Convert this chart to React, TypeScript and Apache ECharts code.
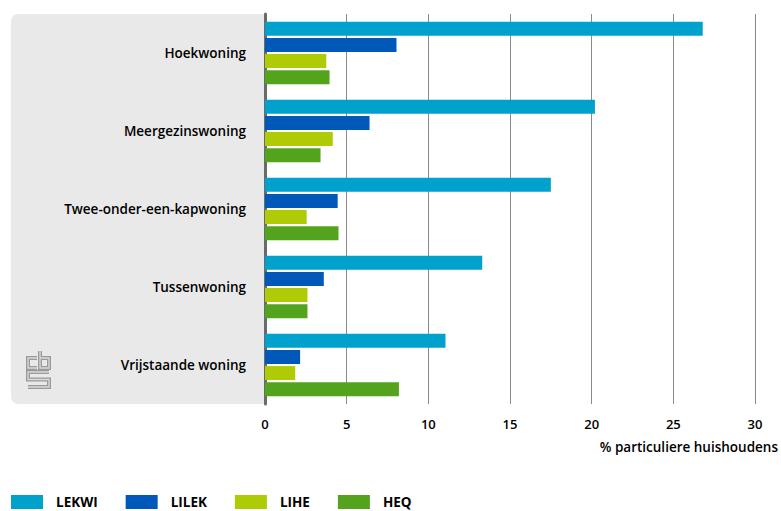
import React, { useEffect, useRef } from "react";
import * as echarts from "echarts";

const categories = [
  "Hoekwoning",
  "Meergezinswoning",
  "Twee-onder-een-kapwoning",
  "Tussenwoning",
  "Vrijstaande woning",
];
const seriesNames = ["LEKWI", "LILEK", "LIHE", "HEQ"];
const lekwi = [26.8, 20.2, 17.5, 13.3, 11.05];
const lilek = [8.05, 6.4, 4.45, 3.6, 2.15];
const lihe = [3.75, 4.15, 2.55, 2.6, 1.85];
const heq = [3.95, 3.4, 4.5, 2.6, 8.2];
const colors = ["#00a1cd", "#0058b8", "#afcb05", "#53a31d"];
const xTicks = { min: 0, max: 30, interval: 5 };
const axisTitle = "% particuliere huishoudens";

const FONT = "'Open Sans', 'Noto Sans', sans-serif";

const logoLines: number[][][] = [
  [[40, 351], [40, 368], [49, 368], [49, 358], [40, 358]],
  [[37, 358], [28, 358], [28, 368], [37, 368]],
  [[49, 372], [28, 372], [28, 379.5], [49, 379.5], [49, 387], [28, 387]],
];

export default function App() {
  const ref = useRef<HTMLDivElement>(null);
  useEffect(() => {
    const chart = echarts.init(ref.current!, null, { renderer: "svg" });
    const data = [lekwi, lilek, lihe, heq];
    const logo: any[] = [];
    logoLines.forEach((pts) => {
      logo.push({
        type: "polyline",
        z: -5,
        shape: { points: pts },
        style: { fill: "none", stroke: "#9a9a9a", lineWidth: 4 },
      });
    });
    logoLines.forEach((pts) => {
      logo.push({
        type: "polyline",
        z: -4,
        shape: { points: pts },
        style: { fill: "none", stroke: "#dadada", lineWidth: 1.3 },
      });
    });
    chart.setOption({
      animation: false,
      textStyle: { fontFamily: FONT },
      grid: { left: 265, top: 14, width: 490, height: 390 },
      graphic: [
        {
          type: "rect",
          z: -10,
          shape: { x: 11, y: 14, width: 254, height: 390, r: [7, 0, 0, 7] },
          style: { fill: "#e9e9e9" },
        },
        ...logo,
        {
          type: "text",
          right: 3,
          top: 440,
          style: {
            text: axisTitle,
            fontSize: 13.5,
            fontFamily: FONT,
            fill: "#000",
            fontWeight: 600,
          },
        },
      ],
      legend: {
        left: 11,
        top: 495,
        padding: 0,
        icon: "rect",
        itemWidth: 32,
        itemHeight: 14,
        itemGap: 28,
        data: seriesNames,
        textStyle: {
          fontSize: 13.5,
          lineHeight: 14,
          fontWeight: "bold",
          color: "#000",
          fontFamily: FONT,
          padding: [0, 0, 0, 8],
        },
      },
      xAxis: {
        type: "value",
        min: xTicks.min,
        max: xTicks.max,
        interval: xTicks.interval,
        axisLine: { show: false },
        axisTick: { show: false },
        splitLine: { lineStyle: { color: "#8a8a8a", width: 1 } },
        axisLabel: {
          color: "#000",
          fontSize: 13,
          margin: 13,
          fontWeight: 600,
          fontFamily: FONT,
        },
      },
      yAxis: {
        type: "category",
        inverse: true,
        data: categories,
        axisLine: { show: true, lineStyle: { color: "#6a6a6a", width: 3 } },
        axisTick: { show: false },
        axisLabel: {
          color: "#000",
          fontSize: 13.5,
          margin: 19,
          fontWeight: 600,
          fontFamily: FONT,
        },
      },
      series: seriesNames.map((name, i) => ({
        name,
        type: "bar",
        data: data[i],
        barWidth: 14,
        barGap: "15%",
        itemStyle: { color: colors[i] },
      })),
    });
    return () => chart.dispose();
  }, []);
  return (
    <div
      ref={ref}
      style={{ position: "absolute", left: 0, top: 0, width: 781, height: 511 }}
    />
  );
}
